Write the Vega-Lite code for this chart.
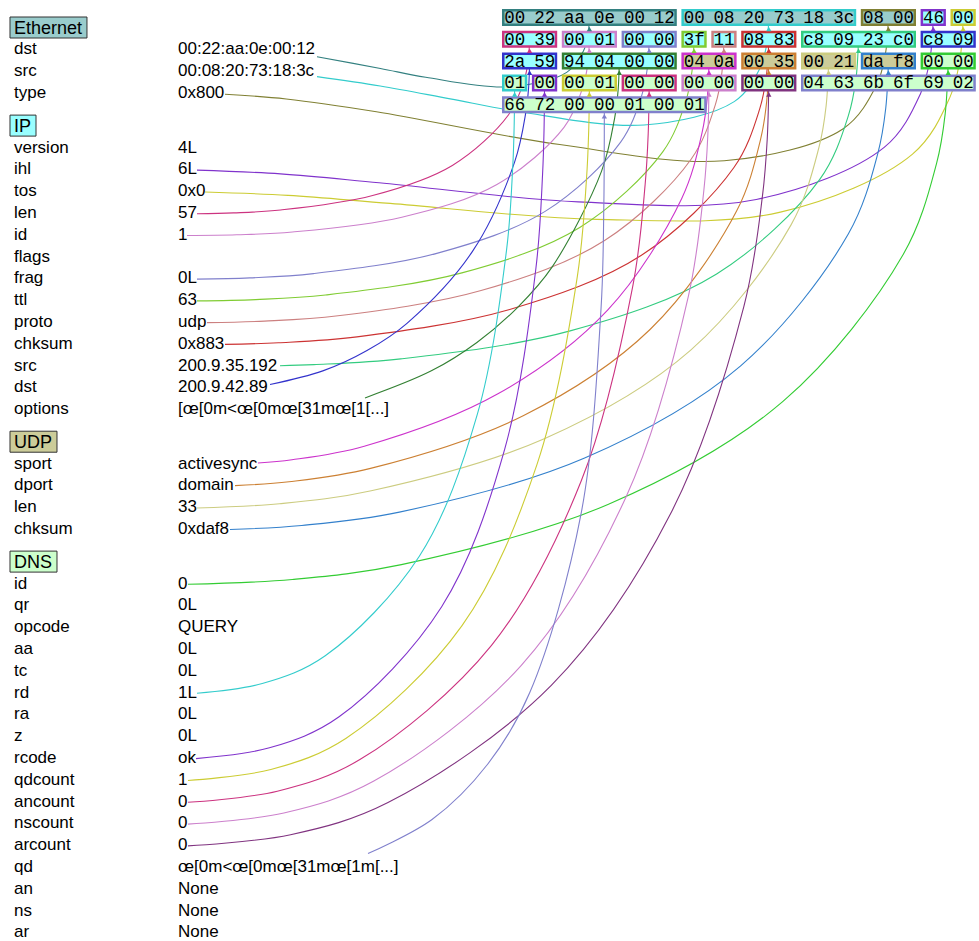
{
  "$schema": "https://vega.github.io/schema/vega-lite/v6.json",
  "width": 979,
  "height": 941,
  "padding": 0,
  "autosize": {"type": "none"},
  "background": "white",
  "config": {"view": {"stroke": null}},
  "datasets": {
    "headers": [
      {"layer": "Ethernet", "line": 0.5, "boxEnd": -13.88},
      {"layer": "IP", "line": 5, "boxEnd": -15.585},
      {"layer": "UDP", "line": 19.5, "boxEnd": -14.883},
      {"layer": "DNS", "line": 25, "boxEnd": -14.883}
    ],
    "fields": [
      {"layer": "Ethernet", "name": "dst", "value": "00:22:aa:0e:00:12", "line": 1.5},
      {"layer": "Ethernet", "name": "src", "value": "00:08:20:73:18:3c", "line": 2.5},
      {"layer": "Ethernet", "name": "type", "value": "0x800", "line": 3.5},
      {"layer": "IP", "name": "version", "value": "4L", "line": 6},
      {"layer": "IP", "name": "ihl", "value": "6L", "line": 7},
      {"layer": "IP", "name": "tos", "value": "0x0", "line": 8},
      {"layer": "IP", "name": "len", "value": "57", "line": 9},
      {"layer": "IP", "name": "id", "value": "1", "line": 10},
      {"layer": "IP", "name": "flags", "value": "", "line": 11},
      {"layer": "IP", "name": "frag", "value": "0L", "line": 12},
      {"layer": "IP", "name": "ttl", "value": "63", "line": 13},
      {"layer": "IP", "name": "proto", "value": "udp", "line": 14},
      {"layer": "IP", "name": "chksum", "value": "0x883", "line": 15},
      {"layer": "IP", "name": "src", "value": "200.9.35.192", "line": 16},
      {"layer": "IP", "name": "dst", "value": "200.9.42.89", "line": 17},
      {"layer": "IP", "name": "options", "value": "[œ[0m<œ[0mœ[31mœ[1[...]", "line": 18},
      {"layer": "UDP", "name": "sport", "value": "activesync", "line": 20.5},
      {"layer": "UDP", "name": "dport", "value": "domain", "line": 21.5},
      {"layer": "UDP", "name": "len", "value": "33", "line": 22.5},
      {"layer": "UDP", "name": "chksum", "value": "0xdaf8", "line": 23.5},
      {"layer": "DNS", "name": "id", "value": "0", "line": 26},
      {"layer": "DNS", "name": "qr", "value": "0L", "line": 27},
      {"layer": "DNS", "name": "opcode", "value": "QUERY", "line": 28},
      {"layer": "DNS", "name": "aa", "value": "0L", "line": 29},
      {"layer": "DNS", "name": "tc", "value": "0L", "line": 30},
      {"layer": "DNS", "name": "rd", "value": "1L", "line": 31},
      {"layer": "DNS", "name": "ra", "value": "0L", "line": 32},
      {"layer": "DNS", "name": "z", "value": "0L", "line": 33},
      {"layer": "DNS", "name": "rcode", "value": "ok", "line": 34},
      {"layer": "DNS", "name": "qdcount", "value": "1", "line": 35},
      {"layer": "DNS", "name": "ancount", "value": "0", "line": 36},
      {"layer": "DNS", "name": "nscount", "value": "0", "line": 37},
      {"layer": "DNS", "name": "arcount", "value": "0", "line": 38},
      {"layer": "DNS", "name": "qd", "value": "œ[0m<œ[0mœ[31mœ[1m[...]", "line": 39},
      {"layer": "DNS", "name": "an", "value": "None", "line": 40},
      {"layer": "DNS", "name": "ns", "value": "None", "line": 41},
      {"layer": "DNS", "name": "ar", "value": "None", "line": 42}
    ],
    "boxes": [
      {"row": 0, "c0": 0, "c1": 6, "f": "eth_dst", "layer": "Ethernet"},
      {"row": 0, "c0": 6, "c1": 12, "f": "eth_src", "layer": "Ethernet"},
      {"row": 0, "c0": 12, "c1": 14, "f": "eth_type", "layer": "Ethernet"},
      {"row": 0, "c0": 14, "c1": 15, "f": "ip_ihl", "layer": "IP"},
      {"row": 0, "c0": 15, "c1": 16, "f": "ip_tos", "layer": "IP"},
      {"row": 1, "c0": 0, "c1": 2, "f": "ip_len", "layer": "IP"},
      {"row": 1, "c0": 2, "c1": 4, "f": "ip_id", "layer": "IP"},
      {"row": 1, "c0": 4, "c1": 6, "f": "ip_frag", "layer": "IP"},
      {"row": 1, "c0": 6, "c1": 7, "f": "ip_ttl", "layer": "IP"},
      {"row": 1, "c0": 7, "c1": 8, "f": "ip_proto", "layer": "IP"},
      {"row": 1, "c0": 8, "c1": 10, "f": "ip_chksum", "layer": "IP"},
      {"row": 1, "c0": 10, "c1": 14, "f": "ip_src", "layer": "IP"},
      {"row": 1, "c0": 14, "c1": 16, "f": "ip_dst", "layer": "IP"},
      {"row": 2, "c0": 0, "c1": 2, "f": "ip_dst", "layer": "IP"},
      {"row": 2, "c0": 2, "c1": 6, "f": "ip_options", "layer": "IP"},
      {"row": 2, "c0": 6, "c1": 8, "f": "udp_sport", "layer": "UDP"},
      {"row": 2, "c0": 8, "c1": 10, "f": "udp_dport", "layer": "UDP"},
      {"row": 2, "c0": 10, "c1": 12, "f": "udp_len", "layer": "UDP"},
      {"row": 2, "c0": 12, "c1": 14, "f": "udp_chksum", "layer": "UDP"},
      {"row": 2, "c0": 14, "c1": 16, "f": "dns_id", "layer": "DNS"},
      {"row": 3, "c0": 0, "c1": 1, "f": "dns_rd", "layer": "DNS"},
      {"row": 3, "c0": 1, "c1": 2, "f": "dns_rcode", "layer": "DNS"},
      {"row": 3, "c0": 2, "c1": 4, "f": "dns_qdcount", "layer": "DNS"},
      {"row": 3, "c0": 4, "c1": 6, "f": "dns_ancount", "layer": "DNS"},
      {"row": 3, "c0": 6, "c1": 8, "f": "dns_nscount", "layer": "DNS"},
      {"row": 3, "c0": 8, "c1": 10, "f": "dns_arcount", "layer": "DNS"},
      {"row": 3, "c0": 10, "c1": 16, "f": "dns_qd", "layer": "DNS"},
      {"row": 4, "c0": 0, "c1": 7, "f": "dns_qd", "layer": "DNS"}
    ],
    "bytes": [
      {"row": 0, "col": 0, "hex": "00"}, {"row": 0, "col": 1, "hex": "22"}, {"row": 0, "col": 2, "hex": "aa"}, {"row": 0, "col": 3, "hex": "0e"},
      {"row": 0, "col": 4, "hex": "00"}, {"row": 0, "col": 5, "hex": "12"}, {"row": 0, "col": 6, "hex": "00"}, {"row": 0, "col": 7, "hex": "08"},
      {"row": 0, "col": 8, "hex": "20"}, {"row": 0, "col": 9, "hex": "73"}, {"row": 0, "col": 10, "hex": "18"}, {"row": 0, "col": 11, "hex": "3c"},
      {"row": 0, "col": 12, "hex": "08"}, {"row": 0, "col": 13, "hex": "00"}, {"row": 0, "col": 14, "hex": "46"}, {"row": 0, "col": 15, "hex": "00"},
      {"row": 1, "col": 0, "hex": "00"}, {"row": 1, "col": 1, "hex": "39"}, {"row": 1, "col": 2, "hex": "00"}, {"row": 1, "col": 3, "hex": "01"},
      {"row": 1, "col": 4, "hex": "00"}, {"row": 1, "col": 5, "hex": "00"}, {"row": 1, "col": 6, "hex": "3f"}, {"row": 1, "col": 7, "hex": "11"},
      {"row": 1, "col": 8, "hex": "08"}, {"row": 1, "col": 9, "hex": "83"}, {"row": 1, "col": 10, "hex": "c8"}, {"row": 1, "col": 11, "hex": "09"},
      {"row": 1, "col": 12, "hex": "23"}, {"row": 1, "col": 13, "hex": "c0"}, {"row": 1, "col": 14, "hex": "c8"}, {"row": 1, "col": 15, "hex": "09"},
      {"row": 2, "col": 0, "hex": "2a"}, {"row": 2, "col": 1, "hex": "59"}, {"row": 2, "col": 2, "hex": "94"}, {"row": 2, "col": 3, "hex": "04"},
      {"row": 2, "col": 4, "hex": "00"}, {"row": 2, "col": 5, "hex": "00"}, {"row": 2, "col": 6, "hex": "04"}, {"row": 2, "col": 7, "hex": "0a"},
      {"row": 2, "col": 8, "hex": "00"}, {"row": 2, "col": 9, "hex": "35"}, {"row": 2, "col": 10, "hex": "00"}, {"row": 2, "col": 11, "hex": "21"},
      {"row": 2, "col": 12, "hex": "da"}, {"row": 2, "col": 13, "hex": "f8"}, {"row": 2, "col": 14, "hex": "00"}, {"row": 2, "col": 15, "hex": "00"},
      {"row": 3, "col": 0, "hex": "01"}, {"row": 3, "col": 1, "hex": "00"}, {"row": 3, "col": 2, "hex": "00"}, {"row": 3, "col": 3, "hex": "01"},
      {"row": 3, "col": 4, "hex": "00"}, {"row": 3, "col": 5, "hex": "00"}, {"row": 3, "col": 6, "hex": "00"}, {"row": 3, "col": 7, "hex": "00"},
      {"row": 3, "col": 8, "hex": "00"}, {"row": 3, "col": 9, "hex": "00"}, {"row": 3, "col": 10, "hex": "04"}, {"row": 3, "col": 11, "hex": "63"},
      {"row": 3, "col": 12, "hex": "6b"}, {"row": 3, "col": 13, "hex": "6f"}, {"row": 3, "col": 14, "hex": "69"}, {"row": 3, "col": 15, "hex": "02"},
      {"row": 4, "col": 0, "hex": "66"}, {"row": 4, "col": 1, "hex": "72"}, {"row": 4, "col": 2, "hex": "00"}, {"row": 4, "col": 3, "hex": "00"},
      {"row": 4, "col": 4, "hex": "01"}, {"row": 4, "col": 5, "hex": "00"}, {"row": 4, "col": 6, "hex": "01"}
    ],
    "links": [
      {"f": "eth_dst", "k": 0, "u": -6.187, "L": 1.799}, {"f": "eth_dst", "k": 1, "u": -4.066, "L": 2.337}, {"f": "eth_dst", "k": 2, "u": -2.552, "L": 2.742}, {"f": "eth_dst", "k": 3, "u": 0.188, "L": 3.183}, {"f": "eth_dst", "k": 4, "u": 2.164, "L": 2.516}, {"f": "eth_dst", "k": 5, "u": 2.724, "L": 1.535}, {"f": "eth_dst", "k": 6, "u": 2.872, "L": 0.843}, {"f": "eth_dst", "k": 9, "u": 2.923, "L": 0},
      {"f": "eth_src", "k": 0, "u": -6.187, "L": 2.711}, {"f": "eth_src", "k": 1, "u": -4.074, "L": 3.14}, {"f": "eth_src", "k": 2, "u": -1.731, "L": 3.732}, {"f": "eth_src", "k": 3, "u": 0.578, "L": 4.32}, {"f": "eth_src", "k": 4, "u": 4.755, "L": 4.93}, {"f": "eth_src", "k": 5, "u": 7.766, "L": 3.86}, {"f": "eth_src", "k": 6, "u": 8.62, "L": 2.348}, {"f": "eth_src", "k": 7, "u": 8.846, "L": 1.287}, {"f": "eth_src", "k": 9, "u": 8.923, "L": 0},
      {"f": "eth_type", "k": 0, "u": -9.264, "L": 3.521}, {"f": "eth_type", "k": 1, "u": -7.217, "L": 3.736}, {"f": "eth_type", "k": 2, "u": -4.2, "L": 4.323}, {"f": "eth_type", "k": 3, "u": 1.93, "L": 5.828}, {"f": "eth_type", "k": 4, "u": 7.433, "L": 6.572}, {"f": "eth_type", "k": 5, "u": 11.399, "L": 5.111}, {"f": "eth_type", "k": 6, "u": 12.523, "L": 3.102}, {"f": "eth_type", "k": 7, "u": 12.82, "L": 1.699}, {"f": "eth_type", "k": 9, "u": 12.923, "L": 0},
      {"f": "ip_ihl", "k": 0, "u": -10.201, "L": 7.002}, {"f": "ip_ihl", "k": 1, "u": -7.407, "L": 7.172}, {"f": "ip_ihl", "k": 2, "u": -4.111, "L": 7.579}, {"f": "ip_ihl", "k": 3, "u": 2.551, "L": 8.458}, {"f": "ip_ihl", "k": 4, "u": 8.504, "L": 8.347}, {"f": "ip_ihl", "k": 5, "u": 12.782, "L": 5.958}, {"f": "ip_ihl", "k": 6, "u": 13.993, "L": 3.505}, {"f": "ip_ihl", "k": 7, "u": 14.313, "L": 1.895}, {"f": "ip_ihl", "k": 9, "u": 14.423, "L": 0},
      {"f": "ip_tos", "k": 0, "u": -9.933, "L": 8.004}, {"f": "ip_tos", "k": 1, "u": -7.155, "L": 8.158}, {"f": "ip_tos", "k": 2, "u": -3.739, "L": 8.526}, {"f": "ip_tos", "k": 3, "u": 3.156, "L": 9.259}, {"f": "ip_tos", "k": 4, "u": 9.311, "L": 8.929}, {"f": "ip_tos", "k": 5, "u": 13.73, "L": 6.266}, {"f": "ip_tos", "k": 6, "u": 14.979, "L": 3.663}, {"f": "ip_tos", "k": 7, "u": 15.31, "L": 1.974}, {"f": "ip_tos", "k": 9, "u": 15.423, "L": 0},
      {"f": "ip_len", "k": 0, "u": -10.201, "L": 8.999}, {"f": "ip_len", "k": 1, "u": -8.981, "L": 8.962}, {"f": "ip_len", "k": 2, "u": -7.404, "L": 8.828}, {"f": "ip_len", "k": 3, "u": -4.327, "L": 8.163}, {"f": "ip_len", "k": 4, "u": -1.661, "L": 6.785}, {"f": "ip_len", "k": 5, "u": 0.214, "L": 4.471}, {"f": "ip_len", "k": 6, "u": 0.738, "L": 2.894}, {"f": "ip_len", "k": 7, "u": 0.876, "L": 1.988}, {"f": "ip_len", "k": 9, "u": 0.923, "L": 1},
      {"f": "ip_id", "k": 0, "u": -10.535, "L": 10.0}, {"f": "ip_id", "k": 1, "u": -8.873, "L": 9.966}, {"f": "ip_id", "k": 2, "u": -7.008, "L": 9.84}, {"f": "ip_id", "k": 3, "u": -3.35, "L": 9.16}, {"f": "ip_id", "k": 4, "u": -0.17, "L": 7.66}, {"f": "ip_id", "k": 5, "u": 2.074, "L": 5.04}, {"f": "ip_id", "k": 6, "u": 2.701, "L": 3.216}, {"f": "ip_id", "k": 7, "u": 2.866, "L": 2.159}, {"f": "ip_id", "k": 9, "u": 2.923, "L": 1},
      {"f": "ip_frag", "k": 0, "u": -10.201, "L": 11.999}, {"f": "ip_frag", "k": 1, "u": -8.437, "L": 11.943}, {"f": "ip_frag", "k": 2, "u": -6.306, "L": 11.749}, {"f": "ip_frag", "k": 3, "u": -2.151, "L": 10.808}, {"f": "ip_frag", "k": 4, "u": 1.442, "L": 8.893}, {"f": "ip_frag", "k": 5, "u": 3.968, "L": 5.718}, {"f": "ip_frag", "k": 6, "u": 4.674, "L": 3.57}, {"f": "ip_frag", "k": 7, "u": 4.859, "L": 2.34}, {"f": "ip_frag", "k": 9, "u": 4.923, "L": 1},
      {"f": "ip_ttl", "k": 0, "u": -10.201, "L": 12.999}, {"f": "ip_ttl", "k": 1, "u": -8.237, "L": 12.939}, {"f": "ip_ttl", "k": 2, "u": -5.901, "L": 12.731}, {"f": "ip_ttl", "k": 3, "u": -1.342, "L": 11.713}, {"f": "ip_ttl", "k": 4, "u": 2.601, "L": 9.629}, {"f": "ip_ttl", "k": 5, "u": 5.376, "L": 6.164}, {"f": "ip_ttl", "k": 6, "u": 6.151, "L": 3.814}, {"f": "ip_ttl", "k": 7, "u": 6.354, "L": 2.467}, {"f": "ip_ttl", "k": 9, "u": 6.423, "L": 1},
      {"f": "ip_proto", "k": 0, "u": -9.866, "L": 13.997}, {"f": "ip_proto", "k": 1, "u": -7.944, "L": 13.927}, {"f": "ip_proto", "k": 2, "u": -5.485, "L": 13.682}, {"f": "ip_proto", "k": 3, "u": -0.7, "L": 12.527}, {"f": "ip_proto", "k": 4, "u": 3.431, "L": 10.231}, {"f": "ip_proto", "k": 5, "u": 6.33, "L": 6.49}, {"f": "ip_proto", "k": 6, "u": 7.139, "L": 3.982}, {"f": "ip_proto", "k": 7, "u": 7.352, "L": 2.553}, {"f": "ip_proto", "k": 9, "u": 7.423, "L": 1},
      {"f": "ip_chksum", "k": 0, "u": -9.264, "L": 14.993}, {"f": "ip_chksum", "k": 1, "u": -7.478, "L": 14.919}, {"f": "ip_chksum", "k": 2, "u": -4.851, "L": 14.65}, {"f": "ip_chksum", "k": 3, "u": 0.257, "L": 13.391}, {"f": "ip_chksum", "k": 4, "u": 4.664, "L": 10.906}, {"f": "ip_chksum", "k": 5, "u": 7.757, "L": 6.881}, {"f": "ip_chksum", "k": 6, "u": 8.619, "L": 4.192}, {"f": "ip_chksum", "k": 7, "u": 8.845, "L": 2.661}, {"f": "ip_chksum", "k": 9, "u": 8.923, "L": 1},
      {"f": "ip_src", "k": 0, "u": -7.425, "L": 15.973}, {"f": "ip_src", "k": 1, "u": -6.291, "L": 15.923}, {"f": "ip_src", "k": 2, "u": -3.386, "L": 15.659}, {"f": "ip_src", "k": 3, "u": 2.279, "L": 14.376}, {"f": "ip_src", "k": 4, "u": 7.178, "L": 11.763}, {"f": "ip_src", "k": 5, "u": 10.622, "L": 7.434}, {"f": "ip_src", "k": 6, "u": 11.584, "L": 4.504}, {"f": "ip_src", "k": 7, "u": 11.837, "L": 2.827}, {"f": "ip_src", "k": 9, "u": 11.923, "L": 1},
      {"f": "ip_dst", "k": 0, "u": -7.759, "L": 16.834}, {"f": "ip_dst", "k": 1, "u": -5.993, "L": 16.209}, {"f": "ip_dst", "k": 2, "u": -4.515, "L": 15.274}, {"f": "ip_dst", "k": 3, "u": -3.178, "L": 14.027}, {"f": "ip_dst", "k": 4, "u": -0.993, "L": 10.74}, {"f": "ip_dst", "k": 5, "u": 0.421, "L": 6.635}, {"f": "ip_dst", "k": 6, "u": 0.795, "L": 4.366}, {"f": "ip_dst", "k": 7, "u": 0.891, "L": 3.193}, {"f": "ip_dst", "k": 9, "u": 0.923, "L": 2},
      {"f": "ip_options", "k": 0, "u": -4.582, "L": 17.45}, {"f": "ip_options", "k": 1, "u": -2.363, "L": 16.209}, {"f": "ip_options", "k": 2, "u": -0.839, "L": 14.906}, {"f": "ip_options", "k": 3, "u": 0.516, "L": 13.305}, {"f": "ip_options", "k": 4, "u": 1.679, "L": 11.439}, {"f": "ip_options", "k": 5, "u": 3.33, "L": 7.048}, {"f": "ip_options", "k": 6, "u": 3.77, "L": 4.589}, {"f": "ip_options", "k": 7, "u": 3.885, "L": 3.309}, {"f": "ip_options", "k": 9, "u": 3.923, "L": 2},
      {"f": "udp_sport", "k": 0, "u": -8.161, "L": 20.438}, {"f": "udp_sport", "k": 1, "u": -7.024, "L": 20.289}, {"f": "udp_sport", "k": 2, "u": -4.607, "L": 19.667}, {"f": "udp_sport", "k": 3, "u": -0.136, "L": 17.262}, {"f": "udp_sport", "k": 4, "u": 3.532, "L": 13.423}, {"f": "udp_sport", "k": 5, "u": 6.015, "L": 8.289}, {"f": "udp_sport", "k": 6, "u": 6.691, "L": 5.28}, {"f": "udp_sport", "k": 7, "u": 6.867, "L": 3.673}, {"f": "udp_sport", "k": 9, "u": 6.923, "L": 2},
      {"f": "udp_dport", "k": 0, "u": -8.93, "L": 21.475}, {"f": "udp_dport", "k": 1, "u": -7.122, "L": 21.294}, {"f": "udp_dport", "k": 2, "u": -4.397, "L": 20.683}, {"f": "udp_dport", "k": 3, "u": 0.709, "L": 18.268}, {"f": "udp_dport", "k": 4, "u": 4.951, "L": 14.312}, {"f": "udp_dport", "k": 5, "u": 7.85, "L": 8.87}, {"f": "udp_dport", "k": 6, "u": 8.644, "L": 5.61}, {"f": "udp_dport", "k": 7, "u": 8.853, "L": 3.848}, {"f": "udp_dport", "k": 9, "u": 8.923, "L": 2},
      {"f": "udp_len", "k": 0, "u": -10.201, "L": 22.498}, {"f": "udp_len", "k": 1, "u": -7.441, "L": 22.304}, {"f": "udp_len", "k": 2, "u": -4.373, "L": 21.71}, {"f": "udp_len", "k": 3, "u": 1.433, "L": 19.311}, {"f": "udp_len", "k": 4, "u": 6.312, "L": 15.256}, {"f": "udp_len", "k": 5, "u": 9.672, "L": 9.501}, {"f": "udp_len", "k": 6, "u": 10.598, "L": 5.972}, {"f": "udp_len", "k": 7, "u": 10.841, "L": 4.042}, {"f": "udp_len", "k": 9, "u": 10.923, "L": 2},
      {"f": "udp_chksum", "k": 0, "u": -9.097, "L": 23.486}, {"f": "udp_chksum", "k": 1, "u": -6.697, "L": 23.299}, {"f": "udp_chksum", "k": 2, "u": -3.432, "L": 22.689}, {"f": "udp_chksum", "k": 3, "u": 2.764, "L": 20.206}, {"f": "udp_chksum", "k": 4, "u": 7.982, "L": 15.978}, {"f": "udp_chksum", "k": 5, "u": 11.581, "L": 9.934}, {"f": "udp_chksum", "k": 6, "u": 12.574, "L": 6.208}, {"f": "udp_chksum", "k": 7, "u": 12.834, "L": 4.165}, {"f": "udp_chksum", "k": 9, "u": 12.923, "L": 2},
      {"f": "dns_id", "k": 0, "u": -10.502, "L": 26.0}, {"f": "dns_id", "k": 1, "u": -7.014, "L": 25.776}, {"f": "dns_id", "k": 2, "u": -3.364, "L": 25.096}, {"f": "dns_id", "k": 3, "u": 3.562, "L": 22.328}, {"f": "dns_id", "k": 4, "u": 9.397, "L": 17.612}, {"f": "dns_id", "k": 5, "u": 13.422, "L": 10.864}, {"f": "dns_id", "k": 6, "u": 14.532, "L": 6.702}, {"f": "dns_id", "k": 7, "u": 14.822, "L": 4.419}, {"f": "dns_id", "k": 9, "u": 14.923, "L": 2},
      {"f": "dns_rd", "k": 0, "u": -10.201, "L": 30.994}, {"f": "dns_rd", "k": 1, "u": -8.017, "L": 30.551}, {"f": "dns_rd", "k": 2, "u": -5.911, "L": 29.277}, {"f": "dns_rd", "k": 3, "u": -2.765, "L": 24.712}, {"f": "dns_rd", "k": 4, "u": -0.826, "L": 18.208}, {"f": "dns_rd", "k": 5, "u": 0.152, "L": 10.67}, {"f": "dns_rd", "k": 6, "u": 0.361, "L": 6.795}, {"f": "dns_rd", "k": 7, "u": 0.408, "L": 4.88}, {"f": "dns_rd", "k": 9, "u": 0.423, "L": 3},
      {"f": "dns_rcode", "k": 0, "u": -10.234, "L": 33.995}, {"f": "dns_rcode", "k": 1, "u": -7.777, "L": 33.501}, {"f": "dns_rcode", "k": 2, "u": -5.461, "L": 32.089}, {"f": "dns_rcode", "k": 3, "u": -2.018, "L": 27.028}, {"f": "dns_rcode", "k": 4, "u": 0.086, "L": 19.821}, {"f": "dns_rcode", "k": 5, "u": 1.136, "L": 11.477}, {"f": "dns_rcode", "k": 6, "u": 1.357, "L": 7.192}, {"f": "dns_rcode", "k": 7, "u": 1.407, "L": 5.077}, {"f": "dns_rcode", "k": 9, "u": 1.423, "L": 3},
      {"f": "dns_qdcount", "k": 0, "u": -10.502, "L": 35.0}, {"f": "dns_qdcount", "k": 1, "u": -7.73, "L": 34.494}, {"f": "dns_qdcount", "k": 2, "u": -5.212, "L": 33.058}, {"f": "dns_qdcount", "k": 3, "u": -1.337, "L": 27.895}, {"f": "dns_qdcount", "k": 4, "u": 1.171, "L": 20.502}, {"f": "dns_qdcount", "k": 5, "u": 2.52, "L": 11.873}, {"f": "dns_qdcount", "k": 6, "u": 2.826, "L": 7.405}, {"f": "dns_qdcount", "k": 7, "u": 2.9, "L": 5.187}, {"f": "dns_qdcount", "k": 9, "u": 2.923, "L": 3},
      {"f": "dns_ancount", "k": 0, "u": -10.502, "L": 36.0}, {"f": "dns_ancount", "k": 1, "u": -7.515, "L": 35.49}, {"f": "dns_ancount", "k": 2, "u": -4.753, "L": 34.04}, {"f": "dns_ancount", "k": 3, "u": -0.351, "L": 28.8}, {"f": "dns_ancount", "k": 4, "u": 2.655, "L": 21.241}, {"f": "dns_ancount", "k": 5, "u": 4.374, "L": 12.321}, {"f": "dns_ancount", "k": 6, "u": 4.788, "L": 7.65}, {"f": "dns_ancount", "k": 7, "u": 4.89, "L": 5.315}, {"f": "dns_ancount", "k": 9, "u": 4.923, "L": 3},
      {"f": "dns_nscount", "k": 0, "u": -10.502, "L": 37.0}, {"f": "dns_nscount", "k": 1, "u": -7.295, "L": 36.487}, {"f": "dns_nscount", "k": 2, "u": -4.286, "L": 35.025}, {"f": "dns_nscount", "k": 3, "u": 0.646, "L": 29.715}, {"f": "dns_nscount", "k": 4, "u": 4.148, "L": 21.993}, {"f": "dns_nscount", "k": 5, "u": 6.234, "L": 12.78}, {"f": "dns_nscount", "k": 6, "u": 6.753, "L": 7.903}, {"f": "dns_nscount", "k": 7, "u": 6.882, "L": 5.447}, {"f": "dns_nscount", "k": 9, "u": 6.923, "L": 3},
      {"f": "dns_arcount", "k": 0, "u": -10.502, "L": 38.0}, {"f": "dns_arcount", "k": 1, "u": -7.071, "L": 37.485}, {"f": "dns_arcount", "k": 2, "u": -3.813, "L": 36.012}, {"f": "dns_arcount", "k": 3, "u": 1.648, "L": 30.637}, {"f": "dns_arcount", "k": 4, "u": 5.641, "L": 22.755}, {"f": "dns_arcount", "k": 5, "u": 8.09, "L": 13.249}, {"f": "dns_arcount", "k": 6, "u": 8.713, "L": 8.162}, {"f": "dns_arcount", "k": 7, "u": 8.87, "L": 5.584}, {"f": "dns_arcount", "k": 9, "u": 8.923, "L": 3},
      {"f": "dns_qd", "k": 0, "u": -4.482, "L": 38.35}, {"f": "dns_qd", "k": 1, "u": -2.34, "L": 36.789}, {"f": "dns_qd", "k": 2, "u": -0.481, "L": 34.253}, {"f": "dns_qd", "k": 3, "u": 0.929, "L": 30.966}, {"f": "dns_qd", "k": 4, "u": 2.647, "L": 22.749}, {"f": "dns_qd", "k": 5, "u": 3.312, "L": 13.354}, {"f": "dns_qd", "k": 6, "u": 3.406, "L": 8.596}, {"f": "dns_qd", "k": 7, "u": 3.419, "L": 6.269}, {"f": "dns_qd", "k": 9, "u": 3.423, "L": 4}
    ]
  },
  "layer": [
    {
      "data": {"name": "headers"},
      "mark": {"type": "rect", "stroke": "#333333", "strokeWidth": 1, "yOffset": -11.4, "y2Offset": 9.6},
      "encoding": {
        "x": {"field": "boxEnd", "type": "quantitative", "scale": {"type": "linear", "domain": [-16.789, 15.953], "nice": false, "zero": false}, "axis": null},
        "x2": {"datum": -16.455},
        "y": {"field": "line", "type": "quantitative", "scale": {"type": "linear", "domain": [-0.803, 42.362], "nice": false, "zero": false, "reverse": true}, "axis": null},
        "y2": {"field": "line"},
        "fill": {"field": "layer", "type": "nominal", "scale": {"domain": ["Ethernet", "IP", "UDP", "DNS"], "range": ["#99cccc", "#99ffff", "#cccc99", "#ccffcc"]}, "legend": null}
      }
    },
    {
      "data": {"name": "headers"},
      "mark": {"type": "text", "font": "Liberation Sans", "fontSize": 18, "align": "left", "baseline": "middle", "dy": 0.5, "color": "#000000"},
      "encoding": {
        "x": {"datum": -16.321, "type": "quantitative"},
        "y": {"field": "line", "type": "quantitative"},
        "text": {"field": "layer"}
      }
    },
    {
      "data": {"name": "fields"},
      "mark": {"type": "text", "font": "Liberation Sans", "fontSize": 17, "align": "left", "baseline": "middle", "dy": -0.8, "color": "#000000"},
      "encoding": {
        "x": {"datum": -16.321, "type": "quantitative"},
        "y": {"field": "line", "type": "quantitative"},
        "text": {"field": "name"}
      }
    },
    {
      "data": {"name": "fields"},
      "mark": {"type": "text", "font": "Liberation Sans", "fontSize": 17, "align": "left", "baseline": "middle", "dy": -0.8, "color": "#000000"},
      "encoding": {
        "x": {"datum": -10.836, "type": "quantitative"},
        "y": {"field": "line", "type": "quantitative"},
        "text": {"field": "value"}
      }
    },
    {
      "data": {"name": "links"},
      "mark": {"type": "line", "interpolate": "catmull-rom", "strokeWidth": 1.1},
      "encoding": {
        "x": {"field": "u", "type": "quantitative"},
        "y": {"field": "L", "type": "quantitative"},
        "order": {"field": "k", "type": "quantitative"},
        "color": {"field": "f", "type": "nominal", "legend": null, "scale": {
          "domain": ["eth_dst", "eth_src", "eth_type", "ip_ihl", "ip_tos", "ip_len", "ip_id", "ip_frag", "ip_ttl", "ip_proto", "ip_chksum", "ip_src", "ip_dst", "ip_options", "udp_sport", "udp_dport", "udp_len", "udp_chksum", "dns_id", "dns_rd", "dns_rcode", "dns_qdcount", "dns_ancount", "dns_nscount", "dns_arcount", "dns_qd"],
          "range": ["#338080", "#33cccc", "#808033", "#8033cc", "#cccc33", "#cc3380", "#cc80cc", "#8080cc", "#80cc33", "#cc8080", "#cc3333", "#33cc80", "#3333cc", "#338033", "#cc33cc", "#cc8033", "#cccc80", "#3380cc", "#33cc33", "#33cccc", "#8033cc", "#cccc33", "#cc3380", "#cc80cc", "#803380", "#8080cc"]}}
      }
    },
    {
      "data": {"name": "boxes"},
      "mark": {"type": "rect", "strokeWidth": 2.5, "xOffset": 1.25, "x2Offset": -5.85, "yOffset": -7.25, "y2Offset": 7.25},
      "encoding": {
        "x": {"field": "c0", "type": "quantitative"},
        "x2": {"field": "c1"},
        "y": {"field": "row", "type": "quantitative"},
        "y2": {"field": "row"},
        "fill": {"field": "layer", "type": "nominal", "scale": {"domain": ["Ethernet", "IP", "UDP", "DNS"], "range": ["#99cccc", "#99ffff", "#cccc99", "#ccffcc"]}, "legend": null},
        "stroke": {"field": "f", "type": "nominal", "legend": null, "scale": {
          "domain": ["eth_dst", "eth_src", "eth_type", "ip_ihl", "ip_tos", "ip_len", "ip_id", "ip_frag", "ip_ttl", "ip_proto", "ip_chksum", "ip_src", "ip_dst", "ip_options", "udp_sport", "udp_dport", "udp_len", "udp_chksum", "dns_id", "dns_rd", "dns_rcode", "dns_qdcount", "dns_ancount", "dns_nscount", "dns_arcount", "dns_qd"],
          "range": ["#338080", "#33cccc", "#808033", "#8033cc", "#cccc33", "#cc3380", "#cc80cc", "#8080cc", "#80cc33", "#cc8080", "#cc3333", "#33cc80", "#3333cc", "#338033", "#cc33cc", "#cc8033", "#cccc80", "#3380cc", "#33cc33", "#33cccc", "#8033cc", "#cccc33", "#cc3380", "#cc80cc", "#803380", "#8080cc"]}}
      }
    },
    {
      "data": {"name": "bytes"},
      "mark": {"type": "text", "font": "Liberation Mono", "fontSize": 17.5, "align": "center", "baseline": "middle", "dx": 12.8, "dy": 0.5, "color": "#000000"},
      "encoding": {
        "x": {"field": "col", "type": "quantitative"},
        "y": {"field": "row", "type": "quantitative"},
        "text": {"field": "hex"}
      }
    },
    {
      "data": {"name": "links"},
      "transform": [{"filter": "datum.k == 9"}],
      "mark": {"type": "point", "shape": "triangle-up", "filled": true, "size": 28, "opacity": 1, "yOffset": 11.5},
      "encoding": {
        "x": {"field": "u", "type": "quantitative"},
        "y": {"field": "L", "type": "quantitative"},
        "color": {"field": "f", "type": "nominal", "legend": null}
      }
    }
  ]
}
